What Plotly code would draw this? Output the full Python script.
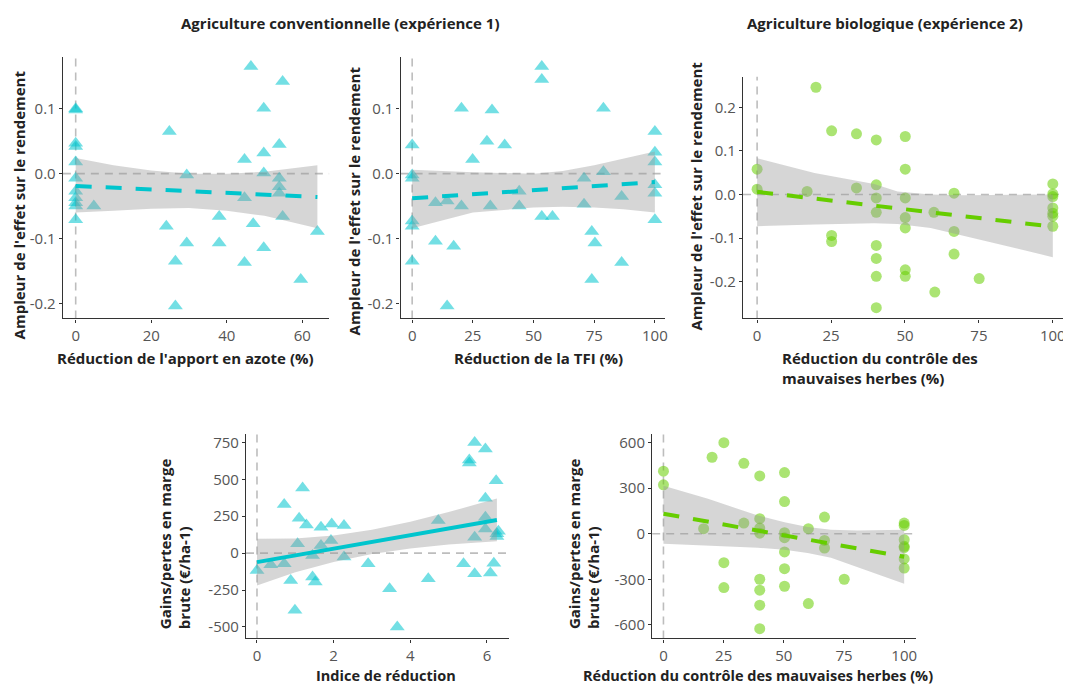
import plotly.graph_objects as go

# ---------------- data ----------------
# Panel 1: yield effect vs nitrogen reduction (conventional)
p1_x = [0, 0, 0, 0, 0, 0, 0, 0, 0, 0, 0, 4.8, 24.8, 24, 26.4, 26.4, 29.4, 29.4, 38, 38,
        44.7, 44.7, 44.7, 46.4, 47, 49.8, 49.8, 49.8, 49.8, 53.9, 53.9, 53.9, 53.9, 54.8, 54.8, 59.6, 64]
p1_y = [0.10, 0.098, 0.047, 0.042, 0.018, -0.007, -0.027, -0.037, -0.045, -0.05, -0.071, -0.05,
        0.065, -0.081, -0.135, -0.204, -0.002, -0.107, -0.066, -0.107,
        0.022, -0.037, -0.137, 0.165, -0.077, 0.101, 0.032, 0.001, -0.114, 0.045, -0.007, -0.02, -0.03,
        0.142, -0.066, -0.163, -0.089]
p1_fit_x = [0, 64]
p1_fit_y = [-0.019, -0.036]
p1_band_x = [0, 10, 20, 30, 40, 50, 64]
p1_band_hi = [0.024, 0.013, 0.005, 0.0, 0.0, 0.003, 0.013]
p1_band_lo = [-0.06, -0.057, -0.054, -0.053, -0.057, -0.065, -0.084]

# Panel 2: yield effect vs TFI reduction (conventional)
p2_x = [0, 0, 0, 0, 0, 0, 9.6, 9.6, 14.4, 14.4, 17.1, 20.3, 20.3, 24.9, 30.8, 32.2,
        32.9, 38.1, 44.1, 44.1, 53.4, 53.4, 53.4, 57.8, 70.8, 70.8,
        74, 75.3, 74, 78.8, 78.8, 86.3, 86.3, 100, 100, 100, 100, 100, 100]
p2_y = [0.044, -0.002, -0.007, -0.073, -0.081, -0.135, -0.045, -0.104, -0.042, -0.204, -0.112, 0.101, -0.05,
        0.022, 0.05, -0.05, 0.098, 0.044, -0.027, -0.05, 0.165, 0.145, -0.066, -0.066, -0.007, -0.047,
        -0.089, -0.107, -0.163, 0.101, 0.003, -0.035, -0.137, 0.065, 0.033, 0.018, -0.017, -0.03, -0.071]
p2_fit_x = [0, 100]
p2_fit_y = [-0.038, -0.013]
p2_band_x = [0, 25, 50, 62, 75, 87, 100]
p2_band_hi = [0.006, 0.002, 0.0, 0.004, 0.013, 0.023, 0.034]
p2_band_lo = [-0.084, -0.06, -0.052, -0.051, -0.052, -0.055, -0.06]

# Panel 3: yield effect vs weed control reduction (organic)
p3_x = [0, 0, 16.9, 19.9, 25.2, 25.2, 25.2, 33.6, 33.6,
        40.3, 40.3, 40.3, 40.3, 40.3, 40.3, 40.3, 40.3,
        50.1, 50.1, 50.1, 50.1, 50.1, 50.1, 50.1,
        59.8, 60.1, 66.6, 66.6, 66.6, 75.1,
        100, 100, 100, 100, 100, 100, 100]
p3_y = [0.058, 0.012, 0.007, 0.246, 0.146, -0.094, -0.108, 0.139, 0.015,
        0.125, 0.022, -0.008, -0.041, -0.117, -0.147, -0.188, -0.26,
        0.133, 0.058, -0.008, -0.053, -0.077, -0.173, -0.188,
        -0.041, -0.224, 0.003, -0.085, -0.137, -0.193,
        0.024, 0.001, -0.005, -0.031, -0.043, -0.05, -0.073]
p3_fit_x = [0, 100]
p3_fit_y = [0.006, -0.074]
p3_band_x = [0, 19.4, 39.6, 47.5, 58.7, 70, 86.8, 100]
p3_band_hi = [0.083, 0.049, 0.024, 0.007, 0.0, -0.002, -0.001, 0.0]
p3_band_lo = [-0.073, -0.069, -0.066, -0.068, -0.077, -0.096, -0.123, -0.144]

# Panel 4: gross margin vs reduction index (conventional)
p4_x = [0, 0.36, 0.71, 0.71, 0.88, 0.99, 1.06, 1.1, 1.19, 1.29, 1.45, 1.45, 1.52, 1.67, 1.67,
        1.93, 1.95, 2.27, 2.27, 2.9, 3.46, 3.66, 4.47, 4.73, 5.39, 5.54, 5.54, 5.68, 5.68, 5.68,
        5.96, 5.96, 5.96, 5.96, 6.09, 6.18, 6.24, 6.26, 6.26, 6.3]
p4_y = [-117, -79, -72, 329, -185, -387, 63, 236, 441, 191, -16, -162, -196, 176, 52,
        86, 198, 187, -27, -72, -241, -500, -173, 221, -72, 610, 631, 750, 108, -140,
        705, 372, 243, 164, -135, -68, 491, 131, 113, 149]
p4_fit_x = [0, 6.26]
p4_fit_y = [-61, 225]
p4_band_x = [0, 1, 2, 3, 4, 5, 6.26]
p4_band_hi = [97, 100, 120, 158, 212, 278, 370]
p4_band_lo = [-219, -130, -60, -6, 32, 58, 80]

# Panel 5: gross margin vs weed control reduction (organic)
p5_x = [0, 0, 16.7, 20.2, 25.1, 25.1, 25.1, 33.4, 33.4,
        40, 40, 40, 40, 40, 40, 40, 40,
        50.3, 50.3, 50.3, 50.3, 50.3, 50.3, 50.3,
        60.2, 60.2, 66.9, 66.9, 66.9, 75.1,
        100, 100, 100, 100, 100, 100, 100]
p5_y = [412, 322, 33, 504, 600, -191, -355, 464, 70,
        381, 99, 37, 4, -300, -372, -471, -626,
        403, 212, 7, -26, -120, -230, -346,
        33, -460, 110, -44, -94, -300,
        70, 55, -39, -83, -92, -166, -226]
p5_fit_x = [0, 100]
p5_fit_y = [132, -152]
p5_band_x = [0, 18.5, 39.2, 50.3, 59.9, 69.6, 80.6, 100]
p5_band_hi = [317, 230, 120, 76, 44, 26, 22, 26]
p5_band_lo = [-66, -77, -92, -105, -127, -158, -219, -329]

# tick labels
t1_x = [0, 20, 40, 60]
t_pct = [0, 25, 50, 75, 100]
t_eff12 = [-0.2, -0.1, 0.0, 0.1]
t_eff12_txt = ["-0.2", "-0.1", "0.0", "0.1"]
t_eff3 = [-0.2, -0.1, 0.0, 0.1, 0.2]
t_eff3_txt = ["-0.2", "-0.1", "0.0", "0.1", "0.2"]
t4_x = [0, 2, 4, 6]
t4_y = [-500, -250, 0, 250, 500, 750]
t4_y_txt = ["-500", "-250", "0", "250", "500", "750"]
t5_y = [-600, -300, 0, 300, 600]
t5_y_txt = ["-600", "-300", "0", "300", "600"]

titles = ["Agriculture conventionnelle (expérience 1)", "Agriculture biologique (expérience 2)"]
xtitles = ["Réduction de l'apport en azote (%)", "Réduction de la TFI (%)",
           "Réduction du contrôle des", "mauvaises herbes (%)", "Indice de réduction",
           "Réduction du contrôle des mauvaises herbes (%)"]
ytitle_eff = "Ampleur de l'effet sur le rendement"
ytitle_gm = ["Gains/pertes en marge", "brute (€/ha-1)"]

# ---------------- style ----------------
# the page places the plot 8px from the top-left corner (default body margin)
OX, OY = 8, 8
W, H = 1063, 677
FONT = "Open Sans"
CYAN = "#00C5CD"
GREEN = "#66CD00"
CYAN_PT = "rgba(0,197,205,0.55)"
GREEN_PT = "rgba(102,205,0,0.55)"
BAND = "rgba(153,153,153,0.4)"
REF = "#bdbdbd"


def fx(px):
    return (px - OX) / W


def fy(py):
    return 1 - (py - OY) / H


fig = go.Figure()

panels = [
    dict(x=p1_x, y=p1_y, fx_=p1_fit_x, fy_=p1_fit_y, bx=p1_band_x, bh=p1_band_hi, bl=p1_band_lo,
         sym="triangle-up", pc=CYAN_PT, lc=CYAN, dash="16px,14px", ms=13),
    dict(x=p2_x, y=p2_y, fx_=p2_fit_x, fy_=p2_fit_y, bx=p2_band_x, bh=p2_band_hi, bl=p2_band_lo,
         sym="triangle-up", pc=CYAN_PT, lc=CYAN, dash="16px,14px", ms=13),
    dict(x=p3_x, y=p3_y, fx_=p3_fit_x, fy_=p3_fit_y, bx=p3_band_x, bh=p3_band_hi, bl=p3_band_lo,
         sym="circle", pc=GREEN_PT, lc=GREEN, dash="16px,14px", ms=11),
    dict(x=p4_x, y=p4_y, fx_=p4_fit_x, fy_=p4_fit_y, bx=p4_band_x, bh=p4_band_hi, bl=p4_band_lo,
         sym="triangle-up", pc=CYAN_PT, lc=CYAN, dash="solid", ms=13),
    dict(x=p5_x, y=p5_y, fx_=p5_fit_x, fy_=p5_fit_y, bx=p5_band_x, bh=p5_band_hi, bl=p5_band_lo,
         sym="circle", pc=GREEN_PT, lc=GREEN, dash="16px,14px", ms=11),
]

for i, p in enumerate(panels, start=1):
    xa = "x" if i == 1 else f"x{i}"
    ya = "y" if i == 1 else f"y{i}"
    fig.add_trace(go.Scatter(x=p["x"], y=p["y"], mode="markers", xaxis=xa, yaxis=ya,
                             marker=dict(symbol=p["sym"], size=p["ms"], color=p["pc"], line=dict(width=0)),
                             showlegend=False, hoverinfo="skip"))
    fig.add_trace(go.Scatter(x=list(p["bx"]) + list(p["bx"])[::-1],
                             y=list(p["bh"]) + list(p["bl"])[::-1],
                             mode="lines", fill="toself", fillcolor=BAND, line=dict(width=0),
                             xaxis=xa, yaxis=ya, showlegend=False, hoverinfo="skip"))
    fig.add_trace(go.Scatter(x=p["fx_"], y=p["fy_"], mode="lines", xaxis=xa, yaxis=ya,
                             line=dict(color=p["lc"], width=4, dash=p["dash"]),
                             showlegend=False, hoverinfo="skip"))
    # reference dashed lines at 0
    fig.add_shape(type="line", xref=xa, yref=f"{ya} domain", x0=0, x1=0, y0=0, y1=1,
                  line=dict(color=REF, width=1.6, dash="8px,6px"), layer="below")
    fig.add_shape(type="line", xref=f"{xa} domain", yref=ya, x0=0, x1=1, y0=0, y1=0,
                  line=dict(color=REF, width=1.6, dash="8px,6px"), layer="below")

axis_common = dict(showline=True, linecolor="#333333", linewidth=1.3, ticks="outside", ticklen=3,
                   tickwidth=1, tickcolor="#333333", showgrid=False, zeroline=False,
                   tickfont=dict(family=FONT, size=15, color="#555555"))

top_y = [fy(317.3), fy(55)]
bot_y = [fy(638.3), fy(433.3)]

fig.update_layout(
    xaxis=dict(domain=[fx(63), fx(330)], range=[-3.4, 67.1], tickvals=t1_x, anchor="y", **axis_common),
    yaxis=dict(domain=top_y, range=[-0.223, 0.180], tickvals=t_eff12, ticktext=t_eff12_txt,
               anchor="x", **axis_common),
    xaxis2=dict(domain=[fx(401.7), fx(666.7)], range=[-4.77, 104.1], tickvals=t_pct, anchor="y2",
                **axis_common),
    yaxis2=dict(domain=top_y, range=[-0.223, 0.180], tickvals=t_eff12, ticktext=t_eff12_txt,
                anchor="x2", **axis_common),
    xaxis3=dict(domain=[fx(745), fx(1070)], range=[-4.8, 104.8], tickvals=t_pct, anchor="y3",
                **axis_common),
    yaxis3=dict(domain=[fy(317.3), fy(75)], range=[-0.2845, 0.27], tickvals=t_eff3, ticktext=t_eff3_txt,
                anchor="x3", **axis_common),
    xaxis4=dict(domain=[fx(246.7), fx(510)], range=[-0.286, 6.565], tickvals=t4_x, anchor="y4",
                **axis_common),
    yaxis4=dict(domain=bot_y, range=[-578, 807], tickvals=t4_y, ticktext=t4_y_txt, anchor="x4",
                **axis_common),
    xaxis5=dict(domain=[fx(654), fx(918.3)], range=[-4.68, 104.8], tickvals=t_pct, anchor="y5",
                **axis_common),
    yaxis5=dict(domain=bot_y, range=[-690, 657], tickvals=t5_y, ticktext=t5_y_txt, anchor="x5",
                **axis_common),
)

tfont = dict(family=FONT, size=15, color="#222222")
afont = dict(family=FONT, size=15, color="#222222")
bfont = dict(family=FONT, size=14.5, color="#222222")
ann = []
# panel group titles
ann.append(dict(text="<b>" + titles[0] + "</b>", x=fx(341), y=fy(21), font=tfont))
ann.append(dict(text="<b>" + titles[1] + "</b>", x=fx(887), y=fy(21), font=tfont))
# x axis titles
ann.append(dict(text="<b>" + xtitles[0] + "</b>", x=fx(186), y=fy(357), font=afont))
ann.append(dict(text="<b>" + xtitles[1] + "</b>", x=fx(540), y=fy(357), font=afont))
ann.append(dict(text="<b>" + xtitles[2] + "</b>", x=fx(782), y=fy(357), xanchor="left", font=afont))
ann.append(dict(text="<b>" + xtitles[3] + "</b>", x=fx(782), y=fy(377), xanchor="left", font=afont))
ann.append(dict(text="<b>" + xtitles[4] + "</b>", x=fx(387), y=fy(675.5), font=bfont))
ann.append(dict(text="<b>" + xtitles[5] + "</b>", x=fx(760), y=fy(675.5), font=bfont))
# y axis titles
ann.append(dict(text="<b>" + ytitle_eff + "</b>", x=fx(19), y=fy(203), textangle=-90, font=afont))
ann.append(dict(text="<b>" + ytitle_eff + "</b>", x=fx(355), y=fy(200), textangle=-90, font=afont))
ann.append(dict(text="<b>" + ytitle_eff + "</b>", x=fx(698), y=fy(195), textangle=-90, font=afont))
for bx, lx in ((165, 184), (575, 594)):
    ann.append(dict(text="<b>" + ytitle_gm[0] + "</b>", x=fx(bx), y=fy(631), yanchor="bottom",
                    textangle=-90, font=afont))
    ann.append(dict(text="<b>" + ytitle_gm[1] + "</b>", x=fx(lx), y=fy(631), yanchor="bottom",
                    textangle=-90, font=afont))

for a in ann:
    a.setdefault("xanchor", "center")
    a.setdefault("yanchor", "middle")
    a.update(xref="paper", yref="paper", showarrow=False)

fig.update_layout(annotations=ann, width=W, height=H, margin=dict(l=0, r=0, t=0, b=0),
                  paper_bgcolor="white", plot_bgcolor="white", font=dict(family=FONT))

fig.write_html("out.html")
